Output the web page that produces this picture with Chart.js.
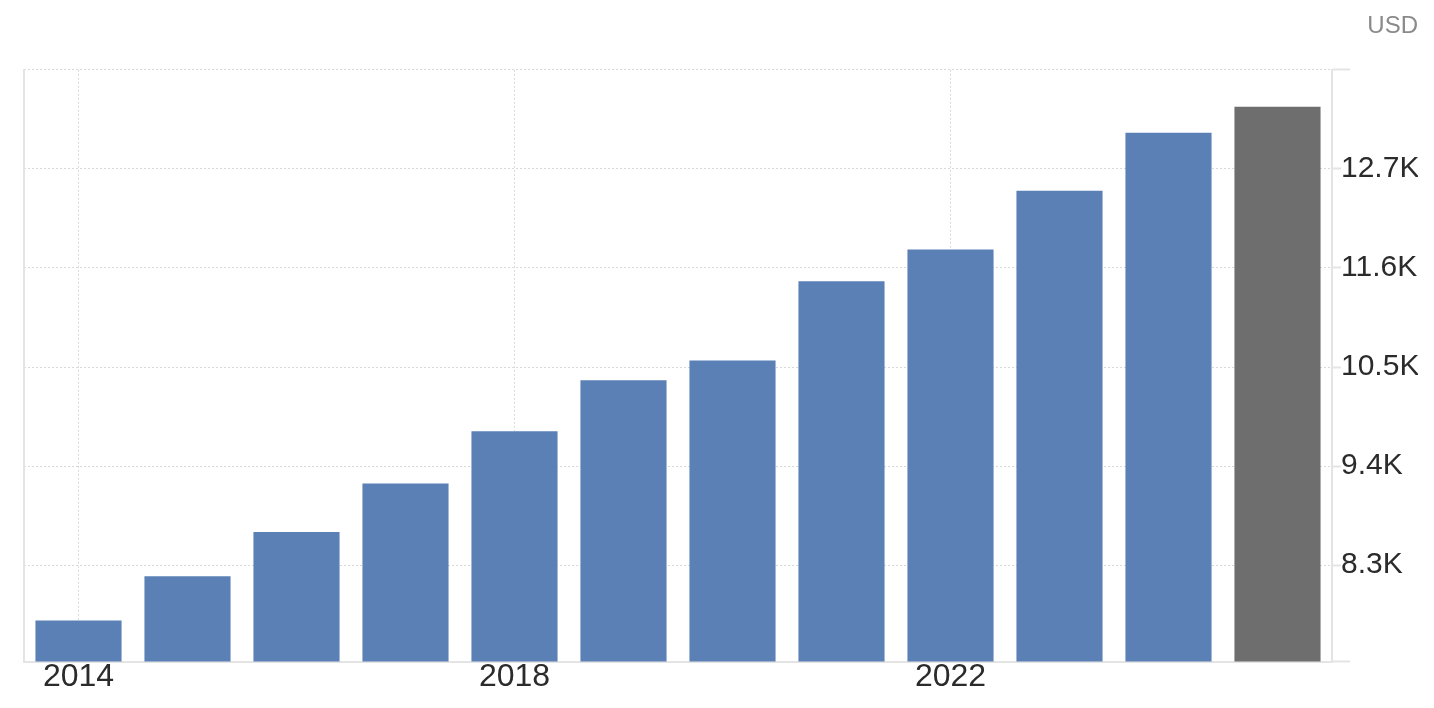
<!DOCTYPE html>
<html>
<head>
<meta charset="utf-8">
<title>USD by year</title>
<script src="https://cdn.jsdelivr.net/npm/chart.js@4.4.1/dist/chart.umd.min.js"></script>
<style>
  html, body { margin: 0; padding: 0; background: #fff; }
  #wrap { position: relative; width: 1434px; height: 708px; }
</style>
</head>
<body>
<div id="wrap"><canvas id="chart"></canvas></div>
<script>
// Data (values in USD)
const years = ['2014', '2015', '2016', '2017', '2018', '2019', '2020', '2021', '2022', '2023', '2024', '2025'];
const values = [7685, 8177, 8669, 9206, 9788, 10353, 10573, 11453, 11805, 12456, 13100, 13389];

// Axis ticks: first and last only carry a grid line, no text
const yTicks = [7230, 8300, 9400, 10500, 11600, 12700, 13800];
const yTickLabels = ['', '8.3K', '9.4K', '10.5K', '11.6K', '12.7K', ''];
const xLabelYears = ['2014', '2018', '2022'];

const BAR_BLUE = '#5a80b6';
const BAR_GREY = '#6e6e6e';
const GRID = '#d9d9d9';
const AXIS = '#e4e4e4';
const FONT = '"Liberation Sans", Arial, Helvetica, sans-serif';

const ctx = document.getElementById('chart');

new Chart(ctx, {
    type: 'bar',
    data: {
        labels: years,
        datasets: [{
            data: values,
            // last year is drawn grey (forecast)
            backgroundColor: (c) => c.dataIndex === values.length - 1 ? BAR_GREY : BAR_BLUE,
            borderWidth: 0,
            categoryPercentage: 1,
            barPercentage: 0.79,
            yAxisID: 'y'
        }]
    },
    options: {
        responsive: true,
        maintainAspectRatio: false,
        animation: false,
        layout: {
            padding: { left: 24, right: 16, top: 0, bottom: 16 }
        },
        plugins: {
            legend: { display: false },
            tooltip: { enabled: false },
            title: {
                display: true,
                text: 'USD',
                align: 'end',
                color: '#8a8a8a',
                font: { family: FONT, size: 24, weight: 'normal' },
                padding: { top: 12, bottom: 29 }
            }
        },
        scales: {
            x: {
                type: 'category',
                offset: true,
                grid: {
                    offset: false,
                    drawTicks: false,
                    lineWidth: 1,
                    color: (c) => (c.tick && xLabelYears.includes(years[c.index])) ? GRID : 'rgba(0,0,0,0)'
                },
                border: { display: true, color: AXIS, width: 2, dash: [2, 2] },
                ticks: {
                    autoSkip: false,
                    maxRotation: 0,
                    minRotation: 0,
                    padding: -4,
                    color: '#2b2b2b',
                    font: { family: FONT, size: 32 },
                    callback: (value, index) => xLabelYears.includes(years[index]) ? years[index] : ''
                }
            },
            y: {
                type: 'linear',
                position: 'right',
                min: yTicks[0],
                max: yTicks[yTicks.length - 1],
                afterBuildTicks: (scale) => {
                    scale.ticks = yTicks.map(v => ({ value: v }));
                },
                afterFit: (scale) => {
                    scale.width = 86;
                },
                grid: {
                    color: GRID,
                    lineWidth: 1,
                    drawTicks: true,
                    tickLength: 18,
                    tickColor: AXIS,
                    tickWidth: 2,
                    tickBorderDash: []
                },
                border: { display: true, color: AXIS, width: 2, dash: [2, 2] },
                ticks: {
                    padding: -9,
                    color: '#2b2b2b',
                    font: { family: FONT, size: 30 },
                    showLabelBackdrop: true,
                    backdropColor: '#fff',
                    backdropPadding: 0,
                    callback: (value, index) => yTickLabels[index]
                }
            },
            // only there to draw the plain left edge of the plot
            yLeft: {
                type: 'linear',
                position: 'left',
                min: 0,
                max: 1,
                grid: { display: false },
                ticks: { display: false },
                border: { display: true, color: AXIS, width: 2 },
                afterFit: (scale) => {
                    scale.width = 0;
                }
            }
        }
    }
});
</script>
</body>
</html>
